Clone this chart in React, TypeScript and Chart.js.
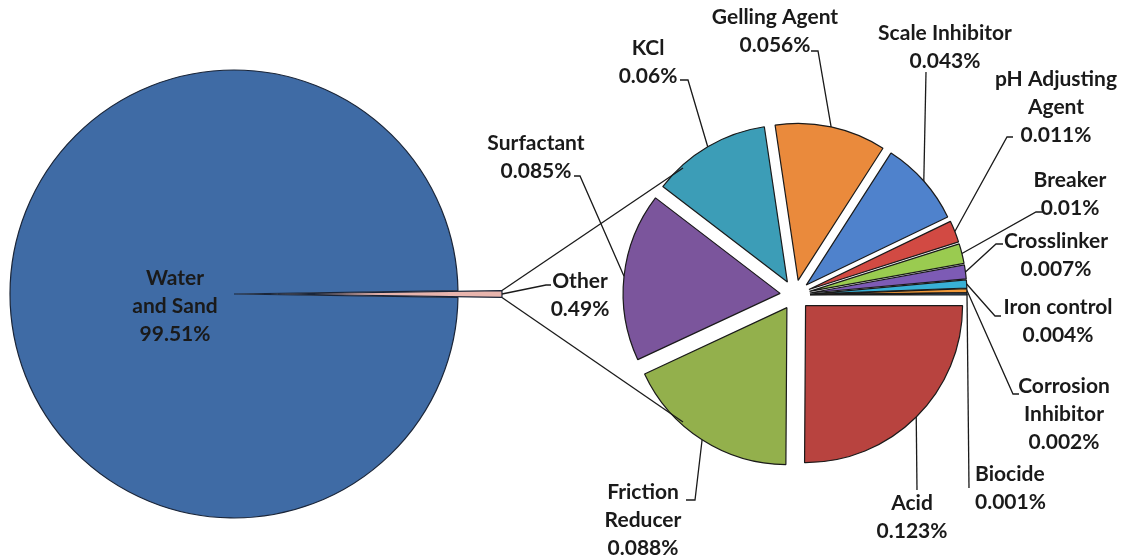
import React, { useEffect, useRef } from "react";
import { Chart, registerables } from "chart.js";

Chart.register(...registerables);

// ---- data ----
const mainLabels = ["Water and Sand", "Other"];
const mainValues = [99.51, 0.49];
const mainValueText = ["99.51%", "0.49%"];
const mainColors = ["#3f6ba5", "#e8b5ae"];

const subLabels = [
  "Acid",
  "Friction Reducer",
  "Surfactant",
  "KCl",
  "Gelling Agent",
  "Scale Inhibitor",
  "pH Adjusting Agent",
  "Breaker",
  "Crosslinker",
  "Iron control",
  "Corrosion Inhibitor",
  "Biocide",
];
const subValues = [0.123, 0.088, 0.085, 0.06, 0.056, 0.043, 0.011, 0.01, 0.007, 0.004, 0.002, 0.001];
const subValueText = ["0.123%", "0.088%", "0.085%", "0.06%", "0.056%", "0.043%", "0.011%", "0.01%", "0.007%", "0.004%", "0.002%", "0.001%"];
const subColors = [
  "#b8433f",
  "#93b04c",
  "#7b559c",
  "#3c9db7",
  "#ea8a3c",
  "#4f82cc",
  "#d24a43",
  "#9acb50",
  "#7d5bb5",
  "#38b0d6",
  "#f29a3a",
  "#4f81bd",
];

// label text split into lines (how the labels wrap)
const mainLabelLines = [["Water", "and Sand"], ["Other"]];
const subLabelLines = [
  ["Acid"],
  ["Friction", "Reducer"],
  ["Surfactant"],
  ["KCl"],
  ["Gelling Agent"],
  ["Scale Inhibitor"],
  ["pH Adjusting", "Agent"],
  ["Breaker"],
  ["Crosslinker"],
  ["Iron control"],
  ["Corrosion", "Inhibitor"],
  ["Biocide"],
];

// ---- layout ----
const W = 1122;
const H = 558;
const MAIN_C = { x: 234, y: 294 };
const MAIN_R = 224;
const OTHER_EXPLODE = 44;
const SUB_C = { x: 795, y: 295 };
const SUB_R = 157;
const SUB_EXPLODE = 15;
const FONT = "bold 21px Lato, 'Open Sans', sans-serif";
const LINE_H = 28;
const TEXT_COLOR = "#1a1a1a";

type LabelPos = { x: number; y: number; align: CanvasTextAlign; path: number[][] };

const mainLabelPos: (LabelPos | null)[] = [
  { x: 175, y: 278, align: "center", path: [] },
  { x: 580, y: 281, align: "center", path: [[546, 285], [551, 285]] },
];

const subLabelPos: LabelPos[] = [
  { x: 912, y: 503, align: "center", path: [[917, 490]] },
  { x: 643, y: 492, align: "center", path: [[695, 500], [686, 500]] },
  { x: 536, y: 143, align: "center", path: [[580, 176], [574, 176]] },
  { x: 648, y: 48, align: "center", path: [[688, 80], [680, 80]] },
  { x: 775, y: 17, align: "center", path: [[818, 51], [811, 51]] },
  { x: 945, y: 33, align: "center", path: [[926, 72]] },
  { x: 1056, y: 79, align: "center", path: [[1007, 137], [1013, 137]] },
  { x: 1070, y: 180, align: "center", path: [[1036, 212], [1043, 212]] },
  { x: 1056, y: 241, align: "center", path: [[996, 244], [1003, 244]] },
  { x: 1058, y: 307, align: "center", path: [[995, 316], [1001, 316]] },
  { x: 1064, y: 386, align: "center", path: [[1013, 394], [1019, 394]] },
  { x: 975, y: 474, align: "left", path: [[969, 488]] },
];

// series lines from the "Other" slice to the second pie (relative to its centre)
const seriesLineEnds = [
  [-112, -127],
  [-112, 127],
];

const explodePlugin = {
  id: "explode",
  beforeDatasetsDraw(chart: any, _args: any, opts: any) {
    const meta = chart.getDatasetMeta(0);
    const ca = chart.chartArea;
    const cx = (ca.left + ca.right) / 2;
    const cy = (ca.top + ca.bottom) / 2;
    const d: number[] = opts.distances || [];
    meta.data.forEach((arc: any, i: number) => {
      const mid = (arc.startAngle + arc.endAngle) / 2;
      arc.x = cx + Math.cos(mid) * (d[i] || 0);
      arc.y = cy + Math.sin(mid) * (d[i] || 0);
    });
  },
};

function drawLabel(ctx: CanvasRenderingContext2D, lines: string[], pos: LabelPos) {
  ctx.font = FONT;
  ctx.fillStyle = TEXT_COLOR;
  ctx.textAlign = pos.align;
  ctx.textBaseline = "middle";
  lines.forEach((t, k) => ctx.fillText(t, pos.x, pos.y + k * LINE_H));
}

function drawPath(ctx: CanvasRenderingContext2D, pts: number[][]) {
  if (pts.length < 2) return;
  ctx.beginPath();
  ctx.moveTo(pts[0][0], pts[0][1]);
  for (let i = 1; i < pts.length; i++) ctx.lineTo(pts[i][0], pts[i][1]);
  ctx.stroke();
}

function arcMid(arc: any) {
  const mid = (arc.startAngle + arc.endAngle) / 2;
  return [arc.x + Math.cos(mid) * arc.outerRadius, arc.y + Math.sin(mid) * arc.outerRadius];
}

export default function App() {
  const c1 = useRef<HTMLCanvasElement>(null);
  const c2 = useRef<HTMLCanvasElement>(null);

  useEffect(() => {
    const mainTotal = mainValues.reduce((a, b) => a + b, 0);
    const chart1 = new Chart(c1.current!, {
      type: "pie",
      data: {
        labels: mainLabels,
        datasets: [
          {
            data: mainValues,
            backgroundColor: mainColors,
            borderColor: "#1a2538",
            borderWidth: 1.2,
            radius: MAIN_R,
            rotation: 90 + (mainValues[1] / mainTotal) * 180,
          } as any,
        ],
      },
      options: {
        responsive: false,
        animation: false,
        layout: {
          padding: { left: 0, right: W - 2 * MAIN_C.x, top: 2 * MAIN_C.y - H, bottom: 0 },
        },
        plugins: {
          legend: { display: false },
          tooltip: { enabled: false },
          explode: { distances: [0, OTHER_EXPLODE] },
        } as any,
      },
      plugins: [explodePlugin],
    });

    const overlay = {
      id: "overlay",
      afterDraw(chart: any) {
        const ctx: CanvasRenderingContext2D = chart.ctx;
        const meta = chart.getDatasetMeta(0);
        const meta1 = chart1.getDatasetMeta(0);
        ctx.save();
        ctx.strokeStyle = "#1a1a1a";
        ctx.lineWidth = 1.3;
        // series lines
        const other: any = meta1.data[1];
        const tips = [
          [other.x + Math.cos(other.startAngle) * other.outerRadius, other.y + Math.sin(other.startAngle) * other.outerRadius],
          [other.x + Math.cos(other.endAngle) * other.outerRadius, other.y + Math.sin(other.endAngle) * other.outerRadius],
        ];
        const ca = chart.chartArea;
        const cx = (ca.left + ca.right) / 2;
        const cy = (ca.top + ca.bottom) / 2;
        tips.forEach((t, k) => {
          drawPath(ctx, [t, [cx + seriesLineEnds[k][0], cy + seriesLineEnds[k][1]]]);
        });
        // main labels
        mainLabelPos.forEach((pos, i) => {
          if (!pos) return;
          if (pos.path.length) {
            const start = [other.x + other.outerRadius, other.y];
            drawPath(ctx, [start, ...pos.path]);
          }
          drawLabel(ctx, [...mainLabelLines[i], mainValueText[i]], pos);
        });
        // sub labels
        meta.data.forEach((arc: any, i: number) => {
          const pos = subLabelPos[i];
          drawPath(ctx, [arcMid(arc), ...pos.path]);
          drawLabel(ctx, [...subLabelLines[i], subValueText[i]], pos);
        });
        ctx.restore();
      },
    };

    const chart2 = new Chart(c2.current!, {
      type: "pie",
      data: {
        labels: subLabels,
        datasets: [
          {
            data: subValues,
            backgroundColor: subColors,
            borderColor: "#1a1a1a",
            borderWidth: 1.2,
            radius: SUB_R,
            rotation: 90,
          } as any,
        ],
      },
      options: {
        responsive: false,
        animation: false,
        layout: {
          padding: { left: 2 * SUB_C.x - W, right: 0, top: 2 * SUB_C.y - H, bottom: 0 },
        },
        plugins: {
          legend: { display: false },
          tooltip: { enabled: false },
          explode: { distances: subValues.map(() => SUB_EXPLODE) },
        } as any,
      },
      plugins: [explodePlugin, overlay],
    });

    let alive = true;
    if ((document as any).fonts && (document as any).fonts.load) {
      (document as any).fonts.load(FONT).then(() => {
        if (alive) {
          chart1.draw();
          chart2.draw();
        }
      });
    }

    return () => {
      alive = false;
      chart2.destroy();
      chart1.destroy();
    };
  }, []);

  return (
    <div style={{ position: "fixed", left: 0, top: 0, width: W, height: H, background: "#fff" }}>
      <canvas ref={c1} width={W} height={H} style={{ position: "absolute", left: 0, top: 0 }} />
      <canvas ref={c2} width={W} height={H} style={{ position: "absolute", left: 0, top: 0 }} />
    </div>
  );
}
